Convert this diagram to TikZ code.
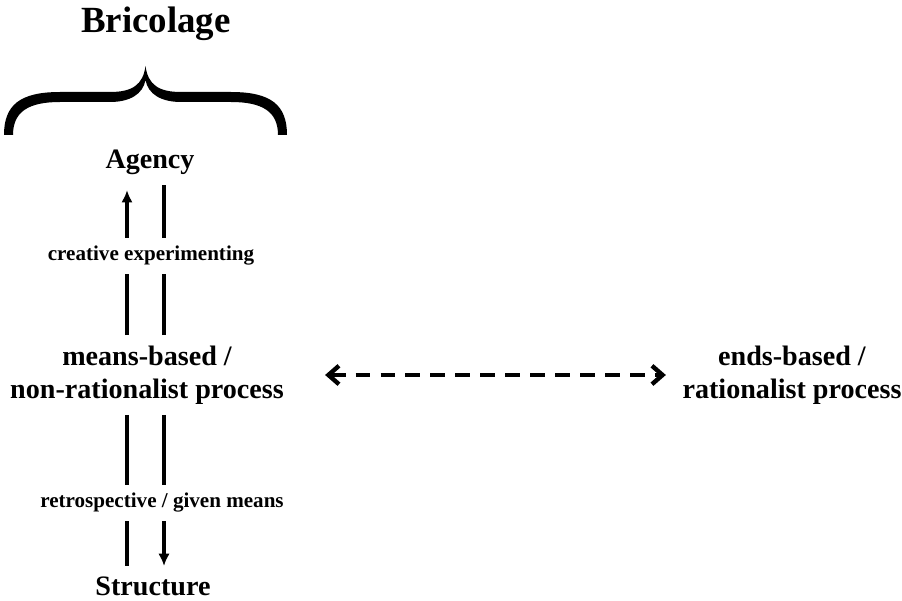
\documentclass[tikz,border=0pt]{standalone}
\usepackage{fontspec}
\setmainfont{Liberation Serif}
\usetikzlibrary{positioning, calc, arrows.meta}
\tikzstyle{Arrow} = [
%rail with an arrow tip:
line width = 2pt,
-{Latex[length=7pt, width=6.5pt]}
]
\tikzstyle{Rail} = [line width = 2pt]

\begin{document}
\begin{tikzpicture}[x=0.02cm, y=-0.02cm,
				heading/.style = {font=\bfseries\fontsize{21}{24}\selectfont, inner sep=0pt},
				concept/.style = {font=\bfseries\fontsize{16}{19}\selectfont, align=center, inner sep=0pt, outer sep=6pt},
				flowlabel/.style = {font=\bfseries\fontsize{12}{14}\selectfont, inner sep=0pt, outer sep=5pt},
				exchange/.style = {line width=2.5pt, dash pattern=on 8.5pt off 5.7pt, {Straight Barb[length=6pt, width=10.5pt]}-{Straight Barb[length=6pt, width=10.5pt]}, shorten <=17.5pt, shorten >=3.5pt},
			]
			\useasboundingbox (0,0) rectangle (902,601);

			\node[heading](Bric) at (156,24){Bricolage};
			\node[concept](Ag) at (150,162){Agency};
			\node[flowlabel](Creat) at (151,256){creative experimenting};
			\node[concept](Means) at (147,375){means-based /\\non-rationalist process};
			\node[flowlabel](Retro) at (162,503){retrospective / given means};
			\node[concept](Str) at (153,586){Structure};
			\node[concept](Ends) at (792,375){ends-based /\\rationalist process};

			\coordinate(L) at (127,0);
			\coordinate(R) at (164,0);

			% brace
			\fill (4,135) .. controls (4,105) and (20,92) .. (60,92) -- (110,92)
				.. controls (132,92) and (143,85) .. (145.5,66)
				.. controls (148,85) and (159,92) .. (181,92) -- (231,92)
				.. controls (271,92) and (287,105) .. (287,135) -- (278,135)
				.. controls (278,112) and (263,102) .. (231,102) -- (181,102)
				.. controls (161,102) and (148,94) .. (145.5,80)
				.. controls (143,94) and (130,102) .. (110,102) -- (60,102)
				.. controls (28,102) and (13,112) .. (13,135) -- cycle;

			\draw[Arrow, shorten >=3pt](Creat.north -| L)--(Ag.south -| L);
			\draw[Rail](Creat.north -| R)--(Ag.south -| R);
			\draw[Rail](Means.north -| L)--(Creat.south -| L);
			\draw[Rail](Means.north -| R)--(Creat.south -| R);
			\draw[Rail](Means.south -| L)--(Retro.north -| L);
			\draw[Rail](Means.south -| R)--(Retro.north -| R);
			\draw[Rail](Retro.south -| L)--(Str.north -| L);
			\draw[Arrow](Retro.south -| R)--(Str.north -| R);

			\draw[exchange](Means.east)--(Ends.west);

		\end{tikzpicture}
\end{document}
